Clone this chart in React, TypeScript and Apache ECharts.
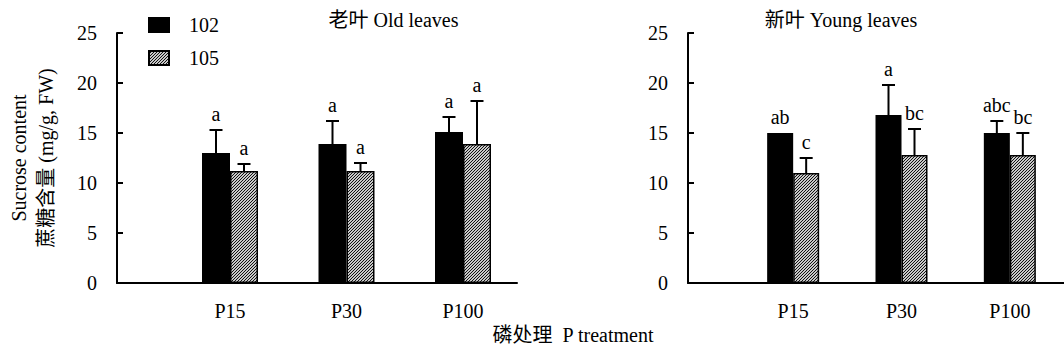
import React, { useEffect, useRef } from "react";
import * as echarts from "echarts";

const categories = ["P15", "P30", "P100"];
const seriesNames = ["102", "105"];
const oldMean102 = [13.0, 13.9, 15.1];
const oldErr102 = [2.3, 2.3, 1.5];
const oldMean105 = [11.2, 11.2, 13.9];
const oldErr105 = [0.7, 0.8, 4.3];
const oldLetters102 = ["a", "a", "a"];
const oldLetters105 = ["a", "a", "a"];
const youngMean102 = [15.0, 16.8, 15.0];
const youngErr102 = [0, 3.0, 1.2];
const youngMean105 = [11.0, 12.8, 12.8];
const youngErr105 = [1.5, 2.6, 2.2];
const youngLetters102 = ["ab", "a", "abc"];
const youngLetters105 = ["c", "bc", "bc"];
const yMin = 0;
const yMax = 25;
const yStep = 5;
const titleOld = "老叶 Old leaves";
const titleYoung = "新叶 Young leaves";
const yName = "Sucrose content\n蔗糖含量 (mg/g, FW)";
const xName = "磷处理  P treatment";

const FONT = '"Liberation Serif", "Times New Roman", "Noto Sans CJK SC", serif';

function makeHatch(): HTMLCanvasElement {
  const c = document.createElement("canvas");
  c.width = 3;
  c.height = 3;
  const ctx = c.getContext("2d")!;
  ctx.fillStyle = "#c8c8c8";
  ctx.fillRect(0, 0, 3, 3);
  ctx.fillStyle = "#111";
  for (let x = 0; x < 3; x++)
    for (let y = 0; y < 3; y++) if ((x + y) % 3 === 2) ctx.fillRect(x, y, 1, 1);
  return c;
}

function errSeries(
  means: number[],
  errs: number[],
  letters: string[],
  side: number,
  barW: number,
  axisIdx: number
) {
  return {
    type: "custom",
    xAxisIndex: axisIdx,
    yAxisIndex: axisIdx,
    silent: true,
    z: 5,
    data: categories.map((_, i) => [i, means[i], errs[i]]),
    renderItem: (params: any, api: any) => {
      const idx = api.value(0);
      const m = api.value(1);
      const e = api.value(2);
      const base = api.coord([idx, m]);
      const topP = api.coord([idx, m + e]);
      const cx = base[0] + (side * barW) / 2;
      const children: any[] = [];
      if (e > 0) {
        children.push({
          type: "line",
          shape: { x1: cx, y1: base[1], x2: cx, y2: topP[1] },
          style: { stroke: "#000", lineWidth: 2 },
        });
        children.push({
          type: "line",
          shape: { x1: cx - 6.5, y1: topP[1], x2: cx + 6.5, y2: topP[1] },
          style: { stroke: "#000", lineWidth: 2 },
        });
      }
      children.push({
        type: "text",
        x: cx,
        y: topP[1] - 16,
        style: {
          text: letters[params.dataIndex],
          align: "center",
          verticalAlign: "middle",
          font: `20px ${FONT}`,
          fill: "#000",
        },
      });
      return { type: "group", children };
    },
  };
}

export default function App() {
  const ref = useRef<HTMLDivElement>(null);
  useEffect(() => {
    if (!ref.current) return;
    const chart = echarts.init(ref.current, null, { renderer: "svg" });
    const hatch = {
      image: makeHatch(),
      repeat: "repeat",
      imageWidth: 3,
      imageHeight: 3,
    } as any;
    const axisLineStyle = { color: "#000", width: 2 };
    const frameX = (g: number) => ({
      type: "value",
      gridIndex: g,
      min: 0,
      max: 1,
      axisLine: { show: true, onZero: false, lineStyle: axisLineStyle },
      axisTick: { show: false },
      axisLabel: { show: false },
      splitLine: { show: false },
    });
    const barX = (g: number) => ({
      type: "category",
      gridIndex: g,
      data: categories,
      axisLine: { show: false },
      axisTick: { show: false },
      axisLabel: { fontSize: 20, fontFamily: FONT, color: "#000", margin: 18 },
      splitLine: { show: false },
    });
    const frameY = (g: number, withName: boolean) => ({
      type: "value",
      gridIndex: g,
      min: yMin,
      max: yMax,
      interval: yStep,
      axisLine: { show: true, onZero: false, lineStyle: axisLineStyle },
      axisTick: { show: true, inside: true, length: 6, lineStyle: { color: "#000", width: 2 } },
      axisLabel: { fontSize: 20, fontFamily: FONT, color: "#000", margin: 20 },
      splitLine: { show: false },
      ...(withName
        ? {
            name: yName,
            nameLocation: "middle",
            nameGap: 58,
            nameRotate: 90,
            nameTextStyle: { fontSize: 20, fontFamily: FONT, color: "#000", lineHeight: 27 },
          }
        : {}),
    });
    const barY = (g: number) => ({
      type: "value",
      gridIndex: g,
      min: yMin,
      max: yMax,
      interval: yStep,
      show: false,
    });
    const bar = (name: string, data: number[], axis: number, w: number, color: any) => ({
      type: "bar",
      name,
      xAxisIndex: axis,
      yAxisIndex: axis,
      data,
      barWidth: w,
      barGap: "0%",
      itemStyle: { color, borderColor: "#000", borderWidth: 1.5 },
      z: 3,
    });
    chart.setOption({
      animation: false,
      grid: [
        { left: 117, top: 33, width: 400, height: 250 },
        { left: 171.75, top: 33, width: 349.5, height: 250 },
        { left: 688, top: 33, width: 376, height: 250 },
        { left: 739, top: 33, width: 328.5, height: 250 },
      ],
      xAxis: [frameX(0), barX(1), frameX(2), barX(3)],
      yAxis: [frameY(0, true), barY(1), frameY(2, false), barY(3)],
      legend: {
        data: seriesNames,
        orient: "vertical",
        left: 148,
        top: 15,
        padding: 0,
        itemWidth: 20,
        itemHeight: 14,
        itemGap: 13,
        icon: "rect",
        textStyle: { fontSize: 20, fontFamily: FONT, color: "#000", padding: [0, 0, 0, 15] },
      },
      graphic: [
        {
          type: "text",
          x: 393.5,
          y: 20,
          style: { text: titleOld, align: "center", verticalAlign: "middle", font: `20px ${FONT}`, fill: "#000" },
        },
        {
          type: "text",
          x: 841,
          y: 20,
          style: { text: titleYoung, align: "center", verticalAlign: "middle", font: `20px ${FONT}`, fill: "#000" },
        },
        {
          type: "text",
          x: 573,
          y: 335,
          style: { text: xName, align: "center", verticalAlign: "middle", font: `20px ${FONT}`, fill: "#000" },
        },
      ],
      series: [
        bar(seriesNames[0], oldMean102, 1, 28, "#000"),
        bar(seriesNames[1], oldMean105, 1, 28, hatch),
        bar(seriesNames[0], youngMean102, 3, 26, "#000"),
        bar(seriesNames[1], youngMean105, 3, 26, hatch),
        errSeries(oldMean102, oldErr102, oldLetters102, -1, 28, 1),
        errSeries(oldMean105, oldErr105, oldLetters105, 1, 28, 1),
        errSeries(youngMean102, youngErr102, youngLetters102, -1, 26, 3),
        errSeries(youngMean105, youngErr105, youngLetters105, 1, 26, 3),
      ],
    } as any);
    return () => chart.dispose();
  }, []);
  return (
    <div
      ref={ref}
      style={{ position: "absolute", left: 0, top: 0, width: 1064, height: 358 }}
    />
  );
}
